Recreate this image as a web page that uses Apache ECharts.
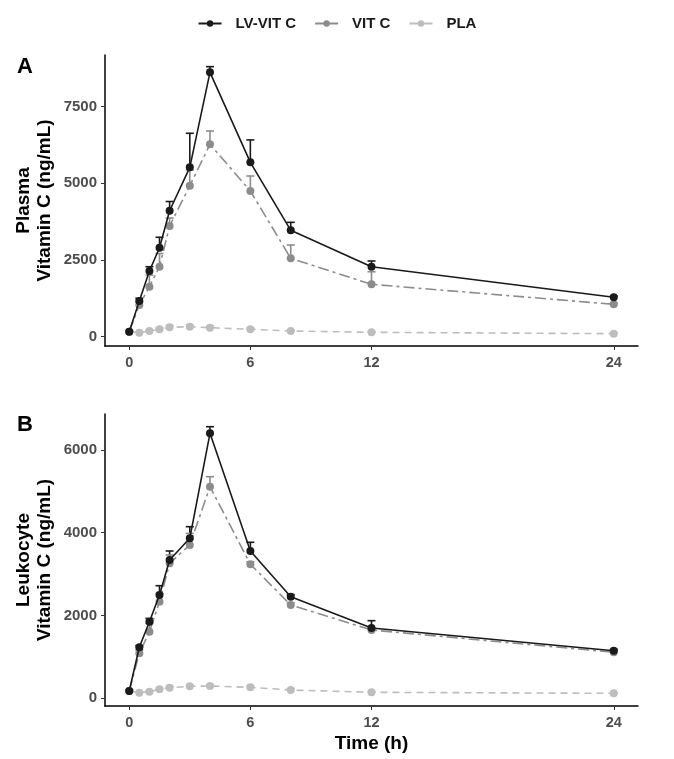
<!DOCTYPE html>
<html>
<head>
<meta charset="utf-8">
<script src="https://cdn.jsdelivr.net/npm/echarts@6/dist/echarts.min.js"></script>
<style>
  html, body { margin: 0; padding: 0; background: #fff; }
  #chart { width: 674px; height: 759px; }
</style>
</head>
<body>
<div id="chart"></div>
<script>
var times = [0, 0.5, 1, 1.5, 2, 3, 4, 6, 8, 12, 24];
var seriesNames = ["LV-VIT C", "VIT C", "PLA"];

// Panel A: plasma vitamin C (ng/mL), mean and upper error
var plasmaLV = [165, 1164, 2142, 2902, 4108, 5523, 8620, 5686, 3469, 2283, 1285];
var plasmaLVErr = [30, 90, 140, 340, 300, 1110, 185, 730, 260, 185, 40];
var plasmaVit = [165, 1034, 1630, 2283, 3610, 4924, 6273, 4750, 2556, 1708, 1056];
var plasmaVitErr = [30, 110, 380, 430, 260, 510, 434, 490, 434, 410, 40];
var plasmaPla = [165, 130, 185, 240, 305, 326, 294, 240, 185, 143, 98];
var plasmaPlaErr = [30, 20, 30, 40, 60, 60, 50, 40, 30, 20, 20];

// Panel B: leukocyte vitamin C (ng/mL)
var leukoLV = [176, 1232, 1850, 2495, 3340, 3865, 6400, 3558, 2454, 1698, 1150];
var leukoLVErr = [30, 40, 80, 225, 218, 280, 160, 210, 50, 177, 30];
var leukoVit = [176, 1087, 1609, 2333, 3261, 3703, 5111, 3237, 2254, 1650, 1111];
var leukoVitErr = [30, 80, 200, 200, 200, 280, 242, 60, 50, 40, 30];
var leukoPla = [176, 136, 160, 217, 257, 290, 297, 265, 200, 145, 120];
var leukoPlaErr = [20, 15, 20, 25, 30, 30, 30, 30, 25, 20, 15];

var xTicks = [0, 6, 12, 24];
var yTicksA = [0, 2500, 5000, 7500];
var yTicksB = [0, 2000, 4000, 6000];

var colors = ["#1a1a1a", "#8c8c8c", "#bdbdbd"];
var lineTypes = ["solid", [11, 4, 3, 4], [7, 5]];
var font = "'Liberation Sans', Arial, Helvetica, sans-serif";

function pairs(ys) {
  return times.map(function (t, i) { return [t, ys[i]]; });
}
function triples(ys, es) {
  return times.map(function (t, i) { return [t, ys[i], es[i]]; });
}

function errRender(color) {
  return function (params, api) {
    var x = api.value(0), y = api.value(1), e = api.value(2);
    var p0 = api.coord([x, y]);
    var p1 = api.coord([x, y + e]);
    var w = 4;
    var st = { stroke: color, lineWidth: 1.6 };
    return {
      type: "group",
      children: [
        { type: "line", shape: { x1: p0[0], y1: p0[1], x2: p1[0], y2: p1[1] }, style: st },
        { type: "line", shape: { x1: p1[0] - w, y1: p1[1], x2: p1[0] + w, y2: p1[1] }, style: st }
      ]
    };
  };
}

function plain(v) { return String(v); }

function xAxis(idx, showName) {
  return {
    type: "value", gridIndex: idx, min: -1.2, max: 25.2,
    name: showName ? "Time (h)" : "", nameLocation: "middle", nameGap: 28,
    nameTextStyle: { fontFamily: font, fontWeight: "bold", fontSize: 19, color: "#000" },
    axisLine: { show: true, onZero: false, lineStyle: { color: "#000", width: 1.5 } },
    axisTick: { show: true, length: 4, customValues: xTicks, lineStyle: { color: "#333" } },
    axisLabel: { customValues: xTicks, formatter: plain, fontFamily: font, fontWeight: "bold", fontSize: 14.5, color: "#4d4d4d", margin: 9 },
    splitLine: { show: false }
  };
}

function yAxis(idx, min, max, ticks, title) {
  return {
    type: "value", gridIndex: idx, min: min, max: max,
    name: title, nameLocation: "middle", nameRotate: 90, nameGap: 50, nameMoveOverlap: false,
    nameTextStyle: { fontFamily: font, fontWeight: "bold", fontSize: 19, color: "#000", lineHeight: 21 },
    axisLine: { show: true, onZero: false, lineStyle: { color: "#000", width: 1.5 } },
    axisTick: { show: true, length: 4, customValues: ticks, lineStyle: { color: "#333" } },
    axisLabel: { customValues: ticks, formatter: plain, fontFamily: font, fontWeight: "bold", fontSize: 15, color: "#4d4d4d", margin: 8 },
    splitLine: { show: false }
  };
}

var panelData = [
  [[plasmaLV, plasmaLVErr], [plasmaVit, plasmaVitErr], [plasmaPla, plasmaPlaErr]],
  [[leukoLV, leukoLVErr], [leukoVit, leukoVitErr], [leukoPla, leukoPlaErr]]
];

var series = [];
panelData.forEach(function (panel, g) {
  panel.forEach(function (d, k) {
    series.push({
      name: "err" + g + k, type: "custom",
      xAxisIndex: g, yAxisIndex: g, z: 1,
      renderItem: errRender(colors[k]),
      data: triples(d[0], d[1]),
      silent: true
    });
  });
  // lighter series first so the dark one sits on top
  [2, 1, 0].forEach(function (k) {
    var d = panel[k];
    series.push({
      name: seriesNames[k], type: "line",
      xAxisIndex: g, yAxisIndex: g, z: 2 + (2 - k),
      color: colors[k],
      symbol: "circle", symbolSize: 8,
      lineStyle: { color: colors[k], width: 1.6, type: lineTypes[k] },
      itemStyle: { color: colors[k] },
      data: pairs(d[0])
    });
  });
});

var myChart = echarts.init(document.getElementById("chart"));
myChart.setOption({
  animation: false,
  backgroundColor: "#fff",
  title: [
    { text: "A", left: 12, top: 51, textStyle: { fontFamily: font, fontWeight: "bold", fontSize: 22, color: "#000" } },
    { text: "B", left: 12, top: 409, textStyle: { fontFamily: font, fontWeight: "bold", fontSize: 22, color: "#000" } }
  ],
  legend: {
    data: seriesNames.map(function (n, k) { return { name: n, itemStyle: { color: colors[k] }, lineStyle: { color: colors[k], type: "solid" } }; }),
    top: 11, left: "center",
    itemWidth: 23, itemHeight: 8, itemGap: 18,
    textStyle: { fontFamily: font, fontWeight: "bold", fontSize: 15, color: "#1a1a1a", padding: [0, 0, 0, 9] }
  },
  grid: [
    { left: 105, right: 36, top: 55, height: 291 },
    { left: 105, right: 36, top: 414, height: 292 }
  ],
  xAxis: [xAxis(0, false), xAxis(1, true)],
  yAxis: [
    yAxis(0, -303, 9185, yTicksA, "Plasma\nVitamin C (ng/mL)"),
    yAxis(1, -186, 6867, yTicksB, "Leukocyte\nVitamin C (ng/mL)")
  ],
  series: series
});
</script>
</body>
</html>
